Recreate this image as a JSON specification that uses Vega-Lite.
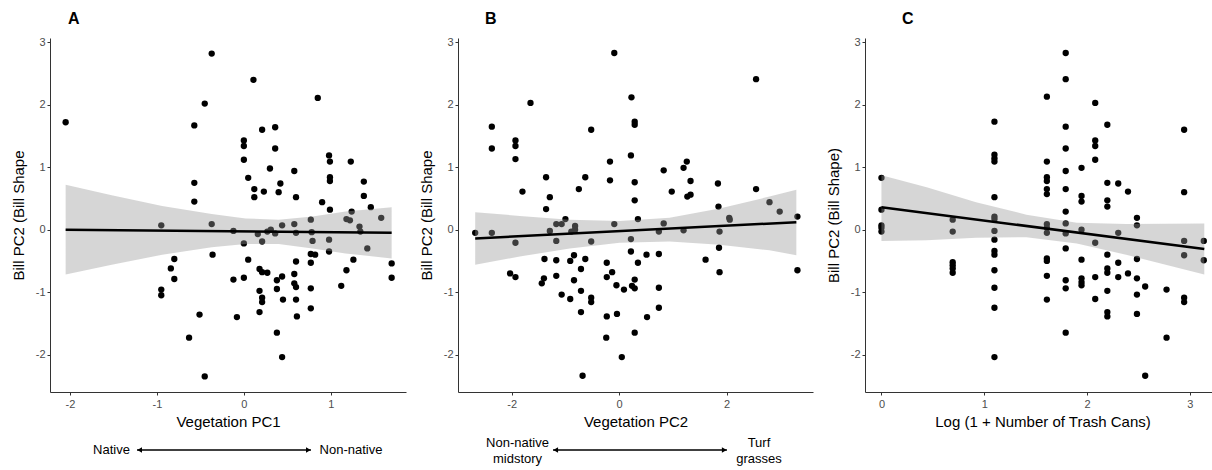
{
  "$schema": "https://vega.github.io/schema/vega-lite/v6.json",
  "padding": {"left": 11, "top": 11, "right": 0, "bottom": 0},
  "autosize": {"type": "pad"},
  "bounds": "flush",
  "spacing": 52,
  "config": {
    "view": {"stroke": null},
    "axis": {
      "grid": false,
      "domainColor": "#333333",
      "domainWidth": 1,
      "tickColor": "#333333",
      "tickSize": 3,
      "labelColor": "#4d4d4d",
      "labelFont": "Liberation Sans",
      "labelFontSize": 11,
      "labelPadding": 2,
      "titleFont": "Liberation Sans",
      "titleFontSize": 15,
      "titleFontWeight": "normal",
      "titleColor": "#000000",
      "labelExpr": "replace(datum.label, '\u2212', '-')"
    },
    "axisX": {"labelPadding": 3, "titlePadding": 5},
    "axisY": {"titlePadding": 9},
    "title": {
      "font": "Liberation Sans",
      "fontSize": 16,
      "fontWeight": "bold",
      "color": "#000000",
      "anchor": "start",
      "frame": "group",
      "baseline": "alphabetic",
      "offset": 9
    }
  },
  "datasets": {
    "A_pts": [
      {"x": -2.05, "y": 1.72}, {"x": -0.37, "y": 2.82}, {"x": 0.11, "y": 2.40}, {"x": -0.45, "y": 2.02}, {"x": 0.85, "y": 2.11},
      {"x": -0.57, "y": 1.67}, {"x": 0.21, "y": 1.60}, {"x": 0.36, "y": 1.64}, {"x": 0.0, "y": 1.43}, {"x": 0.0, "y": 1.34},
      {"x": 0.36, "y": 1.30}, {"x": 0.0, "y": 1.12}, {"x": 0.98, "y": 1.19}, {"x": 0.99, "y": 1.09}, {"x": 1.23, "y": 1.09},
      {"x": 0.30, "y": 0.98}, {"x": 0.58, "y": 0.94}, {"x": 0.05, "y": 0.83}, {"x": 0.99, "y": 0.84}, {"x": 0.99, "y": 0.78},
      {"x": -0.57, "y": 0.75}, {"x": 1.38, "y": 0.77}, {"x": 0.42, "y": 0.74}, {"x": 0.12, "y": 0.65}, {"x": 0.23, "y": 0.61},
      {"x": 0.40, "y": 0.60}, {"x": 0.12, "y": 0.52}, {"x": 0.60, "y": 0.52}, {"x": 1.38, "y": 0.54}, {"x": -0.57, "y": 0.45},
      {"x": 0.90, "y": 0.44}, {"x": 1.46, "y": 0.36}, {"x": 0.99, "y": 0.32}, {"x": 1.24, "y": 0.29}, {"x": 0.77, "y": 0.16},
      {"x": 1.18, "y": 0.17}, {"x": 1.22, "y": 0.15}, {"x": 1.58, "y": 0.19}, {"x": -0.95, "y": 0.07}, {"x": -0.37, "y": 0.09},
      {"x": 0.44, "y": 0.07}, {"x": 0.58, "y": 0.09}, {"x": 1.33, "y": 0.05}, {"x": -0.12, "y": -0.02}, {"x": 0.16, "y": -0.07},
      {"x": 0.27, "y": -0.03}, {"x": 0.31, "y": 0.0}, {"x": 0.36, "y": -0.06}, {"x": 0.60, "y": -0.05}, {"x": 0.78, "y": -0.04},
      {"x": 1.34, "y": -0.03}, {"x": 0.0, "y": -0.22}, {"x": 0.21, "y": -0.19}, {"x": 0.79, "y": -0.18}, {"x": 0.98, "y": -0.16},
      {"x": 1.42, "y": -0.30}, {"x": -0.36, "y": -0.40}, {"x": 0.98, "y": -0.35}, {"x": 0.77, "y": -0.39}, {"x": 0.82, "y": -0.40},
      {"x": -0.80, "y": -0.47}, {"x": 0.05, "y": -0.48}, {"x": 0.60, "y": -0.51}, {"x": 1.26, "y": -0.48}, {"x": 0.77, "y": -0.53},
      {"x": 1.70, "y": -0.54}, {"x": -0.84, "y": -0.62}, {"x": 0.18, "y": -0.63}, {"x": 0.21, "y": -0.68}, {"x": 0.27, "y": -0.69},
      {"x": 1.18, "y": -0.65}, {"x": -0.80, "y": -0.79}, {"x": -0.12, "y": -0.80}, {"x": 0.0, "y": -0.77}, {"x": 0.44, "y": -0.75},
      {"x": 0.38, "y": -0.81}, {"x": 0.58, "y": -0.71}, {"x": 1.70, "y": -0.77}, {"x": 0.58, "y": -0.86}, {"x": 0.60, "y": -0.92},
      {"x": 1.12, "y": -0.90}, {"x": -0.95, "y": -0.96}, {"x": -0.95, "y": -1.05}, {"x": 0.18, "y": -0.98}, {"x": 0.38, "y": -0.95},
      {"x": 0.77, "y": -0.94}, {"x": 0.21, "y": -1.09}, {"x": 0.21, "y": -1.16}, {"x": 0.45, "y": -1.12}, {"x": 0.60, "y": -1.12},
      {"x": 0.77, "y": -1.26}, {"x": 0.18, "y": -1.32}, {"x": -0.51, "y": -1.36}, {"x": -0.08, "y": -1.40}, {"x": 0.61, "y": -1.39},
      {"x": -0.63, "y": -1.73}, {"x": 0.38, "y": -1.65}, {"x": 0.44, "y": -2.04}, {"x": -0.45, "y": -2.35}
    ],
    "A_band": [
      {"x": -2.05, "y": -0.72, "y2": 0.72}, {"x": -1.52, "y": -0.56, "y2": 0.55}, {"x": -0.94, "y": -0.40, "y2": 0.38},
      {"x": -0.37, "y": -0.28, "y2": 0.25}, {"x": 0.02, "y": -0.23, "y2": 0.18}, {"x": 0.40, "y": -0.23, "y2": 0.16},
      {"x": 0.79, "y": -0.30, "y2": 0.21}, {"x": 1.17, "y": -0.38, "y2": 0.29}, {"x": 1.70, "y": -0.46, "y2": 0.36}
    ],
    "A_line": [{"x": -2.05, "y": 0.0}, {"x": 1.70, "y": -0.05}],
    "A_text": [{"x": -1.523, "y": -3.53, "label": "Native"}, {"x": 1.232, "y": -3.53, "label": "Non-native"}],
    "A_rule": [{"x": -1.229, "x2": 0.772, "y": -3.53}],
    "A_head": [{"x": -1.199, "y": -3.53, "dir": "left"}, {"x": 0.742, "y": -3.53, "dir": "right"}],
    "B_pts": [
      {"x": -0.09, "y": 2.83}, {"x": 2.55, "y": 2.41}, {"x": -1.65, "y": 2.03}, {"x": 0.23, "y": 2.12}, {"x": 0.29, "y": 1.73},
      {"x": 0.29, "y": 1.68}, {"x": -2.37, "y": 1.65}, {"x": -0.52, "y": 1.60}, {"x": -2.37, "y": 1.30}, {"x": -1.93, "y": 1.43},
      {"x": -1.93, "y": 1.34}, {"x": -1.93, "y": 1.13}, {"x": 0.22, "y": 1.19}, {"x": -0.17, "y": 1.09}, {"x": 1.26, "y": 1.09},
      {"x": 1.20, "y": 0.99}, {"x": 0.83, "y": 0.95}, {"x": -1.36, "y": 0.84}, {"x": -0.63, "y": 0.84}, {"x": -0.17, "y": 0.79},
      {"x": 0.29, "y": 0.76}, {"x": 1.33, "y": 0.78}, {"x": 1.84, "y": 0.74}, {"x": -0.75, "y": 0.65}, {"x": -1.80, "y": 0.61},
      {"x": 0.98, "y": 0.61}, {"x": 2.55, "y": 0.65}, {"x": -1.29, "y": 0.52}, {"x": 1.27, "y": 0.53}, {"x": 1.33, "y": 0.56},
      {"x": 0.29, "y": 0.47}, {"x": -1.36, "y": 0.33}, {"x": 1.85, "y": 0.37}, {"x": 2.80, "y": 0.44}, {"x": 2.99, "y": 0.29},
      {"x": -1.00, "y": 0.17}, {"x": 0.35, "y": 0.17}, {"x": 2.05, "y": 0.19}, {"x": 2.06, "y": 0.16}, {"x": 3.32, "y": 0.21},
      {"x": -1.17, "y": 0.09}, {"x": -1.07, "y": 0.09}, {"x": -0.82, "y": 0.06}, {"x": -0.09, "y": 0.09}, {"x": 0.83, "y": 0.10},
      {"x": -2.68, "y": -0.05}, {"x": -2.37, "y": -0.05}, {"x": -1.29, "y": -0.02}, {"x": -0.89, "y": -0.03}, {"x": -0.82, "y": 0.0},
      {"x": 0.74, "y": -0.03}, {"x": 1.20, "y": -0.01}, {"x": 1.87, "y": -0.03}, {"x": -1.93, "y": -0.21}, {"x": -1.17, "y": -0.18},
      {"x": -0.52, "y": -0.19}, {"x": 0.22, "y": -0.15}, {"x": 0.22, "y": -0.35}, {"x": 1.86, "y": -0.29}, {"x": -1.39, "y": -0.47},
      {"x": -1.17, "y": -0.49}, {"x": -0.91, "y": -0.50}, {"x": -0.84, "y": -0.41}, {"x": -0.63, "y": -0.47}, {"x": 0.51, "y": -0.40},
      {"x": 0.74, "y": -0.39}, {"x": 1.61, "y": -0.48}, {"x": -0.23, "y": -0.53}, {"x": 0.35, "y": -0.53}, {"x": 3.32, "y": -0.65},
      {"x": -0.71, "y": -0.63}, {"x": -0.13, "y": -0.68}, {"x": 1.87, "y": -0.68}, {"x": -2.03, "y": -0.70}, {"x": -1.93, "y": -0.76},
      {"x": -1.40, "y": -0.78}, {"x": -1.44, "y": -0.86}, {"x": -1.17, "y": -0.74}, {"x": -0.84, "y": -0.81}, {"x": -0.23, "y": -0.76},
      {"x": 0.29, "y": -0.80}, {"x": 0.24, "y": -0.90}, {"x": 0.29, "y": -0.94}, {"x": -0.05, "y": -0.89}, {"x": 0.09, "y": -0.96},
      {"x": 0.74, "y": -0.93}, {"x": -0.71, "y": -0.98}, {"x": -1.07, "y": -1.04}, {"x": -0.91, "y": -1.11}, {"x": -0.52, "y": -1.09},
      {"x": -0.52, "y": -1.16}, {"x": -0.71, "y": -1.32}, {"x": 0.74, "y": -1.25}, {"x": -0.23, "y": -1.39}, {"x": -0.04, "y": -1.35},
      {"x": 0.52, "y": -1.40}, {"x": -0.24, "y": -1.73}, {"x": 0.29, "y": -1.65}, {"x": 0.05, "y": -2.04}, {"x": -0.68, "y": -2.34}
    ],
    "B_band": [
      {"x": -2.68, "y": -0.56, "y2": 0.28}, {"x": -1.85, "y": -0.43, "y2": 0.22}, {"x": -0.92, "y": -0.30, "y2": 0.16},
      {"x": 0.01, "y": -0.21, "y2": 0.14}, {"x": 0.94, "y": -0.19, "y2": 0.19}, {"x": 1.87, "y": -0.24, "y2": 0.34},
      {"x": 2.80, "y": -0.33, "y2": 0.53}, {"x": 3.30, "y": -0.41, "y2": 0.64}
    ],
    "B_line": [{"x": -2.68, "y": -0.14}, {"x": 3.30, "y": 0.12}],
    "B_text": [
      {"x": -1.892, "y": -3.42, "label": "Non-native"}, {"x": -1.892, "y": -3.68, "label": "midstory"},
      {"x": 2.604, "y": -3.42, "label": "Turf"}, {"x": 2.604, "y": -3.68, "label": "grasses"}
    ],
    "B_rule": [{"x": -1.231, "x2": 2.008, "y": -3.53}],
    "B_head": [{"x": -1.181, "y": -3.53, "dir": "left"}, {"x": 1.958, "y": -3.53, "dir": "right"}],
    "C_pts": [
      {"x": 0, "y": 0.83}, {"x": 0, "y": 0.32}, {"x": 0, "y": 0.07}, {"x": 0, "y": 0.03}, {"x": 0, "y": -0.03},
      {"x": 0.693, "y": 0.16}, {"x": 0.693, "y": -0.03}, {"x": 0.693, "y": -0.52}, {"x": 0.693, "y": -0.57}, {"x": 0.693, "y": -0.62}, {"x": 0.693, "y": -0.69},
      {"x": 1.099, "y": 1.73}, {"x": 1.099, "y": 1.20}, {"x": 1.099, "y": 1.14}, {"x": 1.099, "y": 1.09}, {"x": 1.099, "y": 0.52},
      {"x": 1.099, "y": 0.21}, {"x": 1.099, "y": 0.17}, {"x": 1.099, "y": -0.02}, {"x": 1.099, "y": -0.16}, {"x": 1.099, "y": -0.34},
      {"x": 1.099, "y": -0.40}, {"x": 1.099, "y": -0.65}, {"x": 1.099, "y": -0.93}, {"x": 1.099, "y": -1.25}, {"x": 1.099, "y": -2.04},
      {"x": 1.609, "y": 2.13}, {"x": 1.609, "y": 1.09}, {"x": 1.609, "y": 0.84}, {"x": 1.609, "y": 0.78}, {"x": 1.609, "y": 0.65},
      {"x": 1.609, "y": 0.57}, {"x": 1.609, "y": 0.09}, {"x": 1.609, "y": 0.03}, {"x": 1.609, "y": -0.05}, {"x": 1.609, "y": -0.46},
      {"x": 1.609, "y": -0.50}, {"x": 1.609, "y": -0.74}, {"x": 1.609, "y": -1.12},
      {"x": 1.792, "y": 2.83}, {"x": 1.792, "y": 2.41}, {"x": 1.792, "y": 1.65}, {"x": 1.792, "y": 1.30}, {"x": 1.792, "y": 0.94},
      {"x": 1.792, "y": 0.65}, {"x": 1.792, "y": 0.29}, {"x": 1.792, "y": 0.10}, {"x": 1.792, "y": -0.06}, {"x": 1.792, "y": -0.30},
      {"x": 1.792, "y": -0.81}, {"x": 1.792, "y": -0.94}, {"x": 1.792, "y": -1.65},
      {"x": 1.946, "y": 0.99}, {"x": 1.946, "y": 0.54}, {"x": 1.946, "y": 0.45}, {"x": 1.946, "y": 0.0}, {"x": 1.946, "y": -0.48},
      {"x": 1.946, "y": -0.78}, {"x": 1.946, "y": -0.84}, {"x": 1.946, "y": -0.89},
      {"x": 2.079, "y": 2.03}, {"x": 2.079, "y": 1.43}, {"x": 2.079, "y": 1.34}, {"x": 2.079, "y": 1.12}, {"x": 2.079, "y": -0.21},
      {"x": 2.079, "y": -0.76}, {"x": 2.079, "y": -1.11},
      {"x": 2.197, "y": 1.68}, {"x": 2.197, "y": 0.75}, {"x": 2.197, "y": 0.47}, {"x": 2.197, "y": 0.37}, {"x": 2.197, "y": -0.40},
      {"x": 2.197, "y": -0.62}, {"x": 2.197, "y": -0.69}, {"x": 2.197, "y": -0.98}, {"x": 2.197, "y": -1.32}, {"x": 2.197, "y": -1.39},
      {"x": 2.303, "y": 0.74}, {"x": 2.303, "y": -0.05}, {"x": 2.303, "y": -0.53}, {"x": 2.303, "y": -0.76},
      {"x": 2.398, "y": 0.61}, {"x": 2.398, "y": -0.70},
      {"x": 2.485, "y": 0.19}, {"x": 2.485, "y": 0.07}, {"x": 2.485, "y": -0.47}, {"x": 2.485, "y": -0.78}, {"x": 2.485, "y": -1.04}, {"x": 2.485, "y": -1.35},
      {"x": 2.565, "y": -0.91}, {"x": 2.565, "y": -2.34},
      {"x": 2.773, "y": -0.96}, {"x": 2.773, "y": -1.73},
      {"x": 2.944, "y": 1.60}, {"x": 2.944, "y": 0.60}, {"x": 2.944, "y": -0.18}, {"x": 2.944, "y": -0.41}, {"x": 2.944, "y": -1.09}, {"x": 2.944, "y": -1.16},
      {"x": 3.135, "y": -0.18}, {"x": 3.135, "y": -0.49}
    ],
    "C_band": [
      {"x": 0.0, "y": -0.18, "y2": 0.87}, {"x": 0.44, "y": -0.17, "y2": 0.68}, {"x": 0.92, "y": -0.13, "y2": 0.44},
      {"x": 1.41, "y": -0.12, "y2": 0.24}, {"x": 1.90, "y": -0.22, "y2": 0.11}, {"x": 2.38, "y": -0.40, "y2": 0.09},
      {"x": 3.14, "y": -0.72, "y2": 0.10}
    ],
    "C_line": [{"x": 0.0, "y": 0.36}, {"x": 3.14, "y": -0.31}]
  },
  "hconcat": [
    {
      "width": 356,
      "height": 354,
      "title": {"text": "A", "dx": 18},
      "encoding": {
        "x": {"field": "x", "type": "quantitative", "scale": {"domain": [-2.23, 1.865], "nice": false, "zero": false},
              "axis": {"values": [-2, -1, 0, 1], "title": "Vegetation PC1"}},
        "y": {"field": "y", "type": "quantitative", "scale": {"domain": [-2.6, 3.07], "nice": false, "zero": false},
              "axis": {"values": [-2, -1, 0, 1, 2, 3], "title": "Bill PC2 (Bill Shape"}}
      },
      "layer": [
        {"data": {"name": "A_pts"}, "mark": {"type": "point", "filled": true, "color": "#000000", "opacity": 1, "size": 40}},
        {"data": {"name": "A_band"}, "mark": {"type": "area", "color": "#999999", "opacity": 0.4}, "encoding": {"y2": {"field": "y2"}}},
        {"data": {"name": "A_line"}, "mark": {"type": "line", "color": "#000000", "strokeWidth": 2.5}},
        {"data": {"name": "A_rule"}, "mark": {"type": "rule", "color": "#000000", "strokeWidth": 1.5}, "encoding": {"x2": {"field": "x2"}}},
        {"data": {"name": "A_head"}, "mark": {"type": "point", "filled": true, "color": "#000000", "opacity": 1, "size": 30},
         "encoding": {"shape": {"field": "dir", "type": "nominal", "scale": {"domain": ["left", "right"], "range": ["triangle-left", "triangle-right"]}, "legend": null}}},
        {"data": {"name": "A_text"}, "mark": {"type": "text", "font": "Liberation Sans", "fontSize": 13, "color": "#000000", "align": "center", "baseline": "middle"},
         "encoding": {"text": {"field": "label"}}}
      ]
    },
    {
      "width": 355,
      "height": 354,
      "title": {"text": "B", "dx": 27},
      "encoding": {
        "x": {"field": "x", "type": "quantitative", "scale": {"domain": [-3.0, 3.61], "nice": false, "zero": false},
              "axis": {"values": [-2, 0, 2], "title": "Vegetation PC2"}},
        "y": {"field": "y", "type": "quantitative", "scale": {"domain": [-2.6, 3.07], "nice": false, "zero": false},
              "axis": {"values": [-2, -1, 0, 1, 2, 3], "title": "Bill PC2 (Bill Shape"}}
      },
      "layer": [
        {"data": {"name": "B_pts"}, "mark": {"type": "point", "filled": true, "color": "#000000", "opacity": 1, "size": 40}},
        {"data": {"name": "B_band"}, "mark": {"type": "area", "color": "#999999", "opacity": 0.4}, "encoding": {"y2": {"field": "y2"}}},
        {"data": {"name": "B_line"}, "mark": {"type": "line", "color": "#000000", "strokeWidth": 2.5}},
        {"data": {"name": "B_rule"}, "mark": {"type": "rule", "color": "#000000", "strokeWidth": 1.5}, "encoding": {"x2": {"field": "x2"}}},
        {"data": {"name": "B_head"}, "mark": {"type": "point", "filled": true, "color": "#000000", "opacity": 1, "size": 30},
         "encoding": {"shape": {"field": "dir", "type": "nominal", "scale": {"domain": ["left", "right"], "range": ["triangle-left", "triangle-right"]}, "legend": null}}},
        {"data": {"name": "B_text"}, "mark": {"type": "text", "font": "Liberation Sans", "fontSize": 13, "color": "#000000", "align": "center", "baseline": "middle"},
         "encoding": {"text": {"field": "label"}}}
      ]
    },
    {
      "width": 347,
      "height": 354,
      "title": {"text": "C", "dx": 37},
      "encoding": {
        "x": {"field": "x", "type": "quantitative", "scale": {"domain": [-0.16, 3.215], "nice": false, "zero": false},
              "axis": {"values": [0, 1, 2, 3], "title": "Log (1 + Number of Trash Cans)", "titleX": 177.5}},
        "y": {"field": "y", "type": "quantitative", "scale": {"domain": [-2.6, 3.07], "nice": false, "zero": false},
              "axis": {"values": [-2, -1, 0, 1, 2, 3], "title": "Bill PC2 (Bill Shape)"}}
      },
      "layer": [
        {"data": {"name": "C_pts"}, "mark": {"type": "point", "filled": true, "color": "#000000", "opacity": 1, "size": 40}},
        {"data": {"name": "C_band"}, "mark": {"type": "area", "color": "#999999", "opacity": 0.4}, "encoding": {"y2": {"field": "y2"}}},
        {"data": {"name": "C_line"}, "mark": {"type": "line", "color": "#000000", "strokeWidth": 2.5}}
      ]
    }
  ]
}
